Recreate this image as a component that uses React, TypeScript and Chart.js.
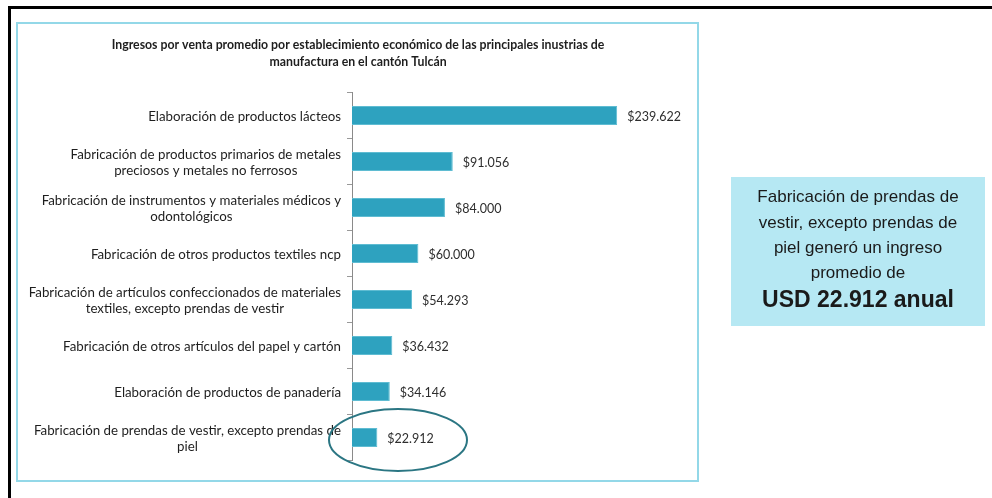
import React, { useEffect, useRef } from "react";
import { Chart, registerables } from "chart.js";

Chart.register(...registerables);

const categories: string[][] = [
  ["Elaboración de productos lácteos"],
  ["Fabricación de productos primarios de metales", "preciosos y metales no ferrosos"],
  ["Fabricación de instrumentos y materiales médicos y", "odontológicos"],
  ["Fabricación de otros productos textiles ncp"],
  ["Fabricación de artículos confeccionados de materiales", "textiles, excepto prendas de vestir"],
  ["Fabricación de otros artículos del papel y cartón"],
  ["Elaboración de productos de panadería"],
  ["Fabricación de prendas de vestir, excepto prendas de", "piel"],
];
const values: number[] = [239622, 91056, 84000, 60000, 54293, 36432, 34146, 22912];
const titleLines: string[] = [
  "Ingresos por venta promedio por establecimiento económico de las principales inustrias de",
  "manufactura en el cantón Tulcán",
];
const calloutLines: string[] = [
  "Fabricación de prendas de",
  "vestir, excepto prendas de",
  "piel generó un ingreso",
  "promedio de",
];
const calloutHighlight = "USD 22.912 anual";
const highlightIndex = 7;
const xMax = 300000;

const fmt = (v: number) => "$" + String(v).replace(/\B(?=(\d{3})+(?!\d))/g, ".");

const LABEL_FONT = "13.3px Lato";
const TITLE_FONT = "bold 12.3px Lato";
const VALUE_FONT = "12.5px Lato";

const decorPlugin = {
  id: "decor",
  beforeDraw(chart: any) {
    const ctx = chart.ctx as CanvasRenderingContext2D;
    ctx.save();
    ctx.fillStyle = "#ffffff";
    ctx.fillRect(0, 0, chart.width, chart.height);
    // outer black frame (top + left)
    ctx.fillStyle = "#000000";
    ctx.fillRect(8, 6, chart.width - 8, 3);
    ctx.fillRect(8, 6, 3, chart.height - 6);
    // chart box
    ctx.strokeStyle = "#93d8e8";
    ctx.lineWidth = 2;
    ctx.strokeRect(17, 23, 681, 458);
    // title
    ctx.fillStyle = "#1e1e1e";
    ctx.font = TITLE_FONT;
    ctx.textAlign = "center";
    ctx.textBaseline = "middle";
    ctx.fillText(titleLines[0], 358, 45);
    ctx.fillText(titleLines[1], 358, 62);
    // callout box
    ctx.fillStyle = "#b6e8f3";
    ctx.fillRect(731, 177, 254, 149);
    ctx.fillStyle = "#1a1a1a";
    ctx.font = "17px 'Liberation Sans', Arial, sans-serif";
    const ys = [197, 223, 248, 273];
    calloutLines.forEach((t, i) => ctx.fillText(t, 858, ys[i]));
    ctx.font = "bold 23px 'Liberation Sans', Arial, sans-serif";
    ctx.fillText(calloutHighlight, 858, 301);
    ctx.restore();
  },
  afterDraw(chart: any) {
    const ctx = chart.ctx as CanvasRenderingContext2D;
    const yScale = chart.scales.y;
    const meta = chart.getDatasetMeta(0);
    ctx.save();
    // category labels: block right aligned, lines centred
    ctx.font = LABEL_FONT;
    ctx.fillStyle = "#1e1e1e";
    ctx.textAlign = "center";
    ctx.textBaseline = "middle";
    const rightEdge = chart.chartArea.left - 11;
    const lh = 16;
    categories.forEach((lines, i) => {
      const cy = yScale.getPixelForValue(i) + 1;
      const w = Math.max(...lines.map((l) => ctx.measureText(l).width));
      const cx = rightEdge - w / 2;
      lines.forEach((l, j) => {
        ctx.fillText(l, cx, cy + (j - (lines.length - 1) / 2) * lh);
      });
    });
    // value labels
    ctx.font = VALUE_FONT;
    ctx.fillStyle = "#2e2e2e";
    ctx.textAlign = "left";
    meta.data.forEach((bar: any, i: number) => {
      ctx.fillText(fmt(values[i]), bar.x + 10, bar.y + 1);
    });
    // ellipse highlight
    const hb = meta.data[highlightIndex];
    ctx.strokeStyle = "#2b7683";
    ctx.lineWidth = 2;
    ctx.beginPath();
    ctx.ellipse(hb.base + 46, hb.y + 2.5, 69, 31, 0, 0, Math.PI * 2);
    ctx.stroke();
    ctx.restore();
  },
};

export default function App() {
  const ref = useRef<HTMLCanvasElement | null>(null);
  useEffect(() => {
    if (!ref.current) return;
    const chart = new Chart(ref.current, {
      type: "bar",
      data: {
        labels: categories.map((c) => c.join(" ")),
        datasets: [
          {
            data: values,
            backgroundColor: "#2ea2bf",
            borderColor: "#5fbcd2",
            borderWidth: 1,
            barPercentage: 0.41,
            categoryPercentage: 1,
          },
        ],
      },
      options: {
        indexAxis: "y",
        responsive: false,
        animation: false,
        layout: { padding: { top: 92.5, bottom: 37.5, left: 12, right: 308 } },
        plugins: {
          legend: { display: false },
          title: { display: false },
          tooltip: { enabled: false },
        },
        scales: {
          x: { display: false, min: 0, max: xMax },
          y: {
            ticks: { display: false },
            grid: {
              display: true,
              drawOnChartArea: false,
              drawTicks: true,
              tickLength: 5,
              color: "#999999",
              offset: true,
            },
            border: { display: true, color: "#8a8a8a", width: 1 },
            afterFit: (scale: any) => {
              scale.width = 340;
            },
          },
        },
      },
      plugins: [decorPlugin],
    });
    return () => chart.destroy();
  }, []);
  return (
    <div style={{ position: "fixed", left: 0, top: 0, width: 992, height: 498 }}>
      <canvas ref={ref} width={992} height={498} style={{ display: "block" }} />
    </div>
  );
}
